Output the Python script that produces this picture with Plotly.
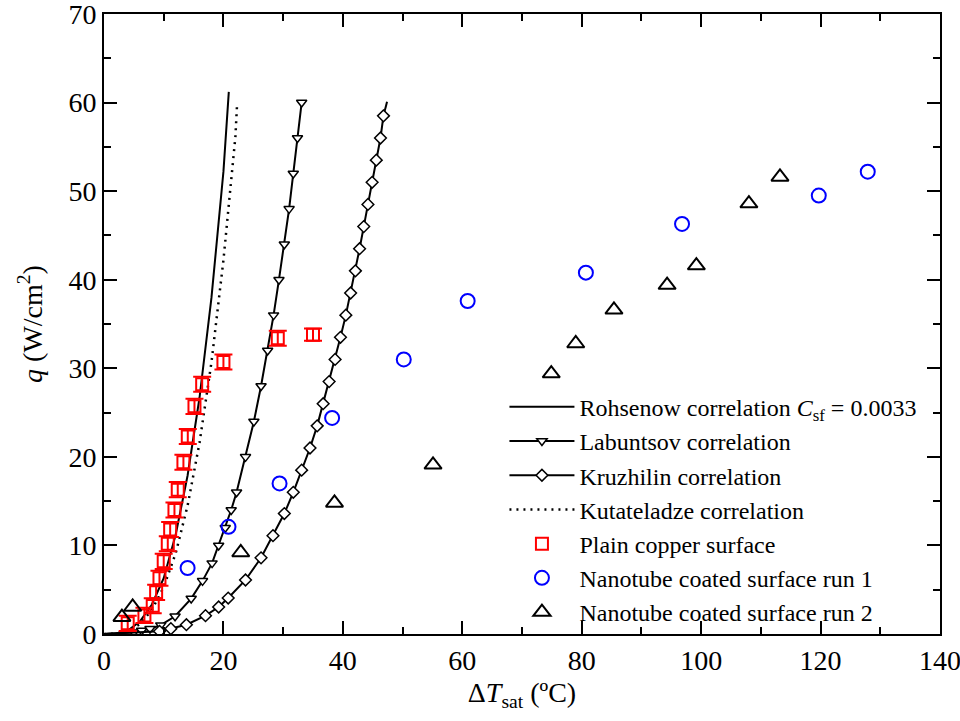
import plotly.graph_objects as go

# ---------------- data ----------------
rohsenow_dt = [0, 2, 4, 6, 8, 10, 12, 14, 16, 18, 20, 20.9]
rohsenow_q = [0, 0.05, 0.4, 1.4, 3.3, 6.3, 11.2, 17.9, 26.7, 38.0, 52.2, 61.2]

kutateladze_dt = [0, 2, 4, 6, 8, 10, 12, 14, 16, 18, 20, 22, 22.3]
kutateladze_q = [0, 0.04, 0.34, 1.1, 2.7, 5.3, 9.1, 14.5, 21.6, 30.7, 42.2, 56.1, 60.0]

labuntsov_dt = [5.0, 6.3, 7.7, 9.5, 11.9, 14.6, 16.5, 18.1, 19.2, 20.3, 21.3, 22.2,
                23.7, 25.1, 26.3, 27.4, 28.4, 29.3, 30.2, 31.0, 31.7, 32.4, 33.1]
labuntsov_q = [0.2, 0.4, 0.6, 1, 2, 4, 6, 8, 10, 12, 14, 16,
               20, 24, 28, 32, 36, 40, 44, 48, 52, 56, 60]
labuntsov_tail_dt = [0, 5.0]
labuntsov_tail_q = [0, 0.2]

kruzhilin_dt = [9.3, 11.2, 13.8, 17.0, 19.2, 20.8, 23.7, 26.3, 28.3, 30.2, 31.7, 33.1,
                34.5, 35.7, 36.7, 37.7, 38.7, 39.6, 40.5, 41.3, 42.1, 42.8, 43.5,
                44.2, 44.9, 45.6, 46.3, 46.8]
kruzhilin_q = [0.3, 0.6, 1.05, 2.07, 3.05, 4.06, 6.1, 8.6, 11.1, 13.6, 16.0, 18.5,
               21.0, 23.5, 26.0, 28.5, 31.0, 33.5, 36.0, 38.5, 41.0, 43.5, 46.0,
               48.5, 51.0, 53.5, 56.0, 58.5]
kruzhilin_tail_dt = [0, 9.3]
kruzhilin_tail_q = [0, 0.3]
kruzhilin_end_dt = [46.8, 47.4]
kruzhilin_end_q = [58.5, 60.1]

copper_dt = [3.97, 6.77, 8.16, 8.73, 9.29, 10.0, 10.68, 11.08, 11.8, 12.35, 13.3,
             14.03, 15.15, 16.44, 20.0, 29.1, 35.0]
copper_q = [1.2, 2.1, 3.2, 4.7, 6.3, 8.2, 10.2, 11.8, 14.0, 16.3, 19.4, 22.3,
            25.7, 28.2, 30.7, 33.4, 33.8]
copper_err = [0.85, 0.85, 0.85, 0.85, 0.85, 0.85, 0.85, 0.85, 0.85, 0.85, 0.85, 0.85,
              0.85, 0.85, 0.85, 0.85, 0.7]

run1_dt = [14.0, 20.85, 29.4, 38.2, 50.2, 60.9, 80.7, 96.8, 119.7, 127.9]
run1_q = [7.45, 12.1, 17.0, 24.4, 31.0, 37.6, 40.8, 46.3, 49.5, 52.2]

run2_dt = [3.0, 4.8, 22.9, 38.6, 55.1, 74.9, 79.0, 85.4, 94.3, 99.2, 108.0, 113.2]
run2_q = [1.9, 3.05, 9.2, 14.8, 19.1, 29.4, 32.8, 36.6, 39.4, 41.6, 48.6, 51.6]

x_ticks = [0, 20, 40, 60, 80, 100, 120, 140]
y_ticks = [0, 10, 20, 30, 40, 50, 60, 70]

# ---------------- figure ----------------
FONT = "Liberation Serif"
fig = go.Figure()

fig.add_trace(go.Scatter(
    x=rohsenow_dt, y=rohsenow_q, mode="lines",
    name="Rohsenow correlation <i>C</i><sub>sf</sub> = 0.0033",
    line=dict(color="black", width=2)))

fig.add_trace(go.Scatter(
    x=labuntsov_tail_dt, y=labuntsov_tail_q, mode="lines", showlegend=False,
    line=dict(color="black", width=2), hoverinfo="skip"))
fig.add_trace(go.Scatter(
    x=labuntsov_dt, y=labuntsov_q, mode="lines+markers",
    name="Labuntsov correlation",
    line=dict(color="black", width=2),
    marker=dict(symbol="triangle-down", size=9, color="white",
                line=dict(color="black", width=1.5))))

fig.add_trace(go.Scatter(
    x=kruzhilin_tail_dt, y=kruzhilin_tail_q, mode="lines", showlegend=False,
    line=dict(color="black", width=2), hoverinfo="skip"))
fig.add_trace(go.Scatter(
    x=kruzhilin_end_dt, y=kruzhilin_end_q, mode="lines", showlegend=False,
    line=dict(color="black", width=2), hoverinfo="skip"))
fig.add_trace(go.Scatter(
    x=kruzhilin_dt, y=kruzhilin_q, mode="lines+markers",
    name="Kruzhilin correlation",
    line=dict(color="black", width=2),
    marker=dict(symbol="diamond", size=9, color="white",
                line=dict(color="black", width=1.5))))

fig.add_trace(go.Scatter(
    x=kutateladze_dt, y=kutateladze_q, mode="lines",
    name="Kutateladze correlation",
    line=dict(color="black", width=2.5, dash="2px,5px")))

fig.add_trace(go.Scatter(
    x=copper_dt, y=copper_q, mode="markers",
    name="Plain copper surface",
    error_y=dict(type="data", array=copper_err, color="red", thickness=2, width=9),
    marker=dict(symbol="square-open", size=12, color="red",
                line=dict(color="red", width=2))))

fig.add_trace(go.Scatter(
    x=run1_dt, y=run1_q, mode="markers",
    name="Nanotube coated surface run 1",
    marker=dict(symbol="circle-open", size=14, color="blue",
                line=dict(color="blue", width=2))))

fig.add_trace(go.Scatter(
    x=run2_dt, y=run2_q, mode="markers",
    name="Nanotube coated surface run 2",
    marker=dict(symbol="triangle-up-open", size=15, color="black",
                line=dict(color="black", width=2))))

axis_common = dict(
    showline=True, linecolor="black", linewidth=2, mirror="ticks",
    ticks="inside", ticklen=13, tickwidth=2, tickcolor="black",
    showgrid=False, zeroline=False, ticklabeloverflow="allow",
    tickfont=dict(family=FONT, size=28, color="black"),
)

fig.update_xaxes(
    range=[0, 140], tickvals=x_ticks, ticktext=[str(v) for v in x_ticks],
    minor=dict(dtick=10, ticks="inside", ticklen=7, tickwidth=2, tickcolor="black"),
    title=dict(text="Δ<i>T</i><sub>sat</sub> (ºC)", font=dict(family=FONT, size=28, color="black"),
               standoff=8),
    **axis_common)
fig.update_yaxes(
    range=[0, 70], tickvals=y_ticks, ticktext=[str(v) for v in y_ticks],
    minor=dict(dtick=5, ticks="inside", ticklen=7, tickwidth=2, tickcolor="black"),
    title=dict(text="<i>q</i> (W/cm<sup>2</sup>)", font=dict(family=FONT, size=28, color="black"),
               standoff=18),
    **axis_common)

fig.update_layout(
    width=960, height=721,
    margin=dict(l=104, r=20, t=14, b=87, autoexpand=False),
    paper_bgcolor="white", plot_bgcolor="white",
    font=dict(family=FONT, color="black"),
    showlegend=True,
    legend=dict(
        x=0.479, y=0.402, xanchor="left", yanchor="top",
        bgcolor="rgba(0,0,0,0)", borderwidth=0,
        font=dict(family=FONT, size=24, color="black"),
        itemwidth=65, tracegroupgap=0,
    ),
)

fig.write_html(
    "out.html",
    config={"displayModeBar": False},
    post_script="document.body.style.margin='0';document.body.style.overflow='hidden';",
)
